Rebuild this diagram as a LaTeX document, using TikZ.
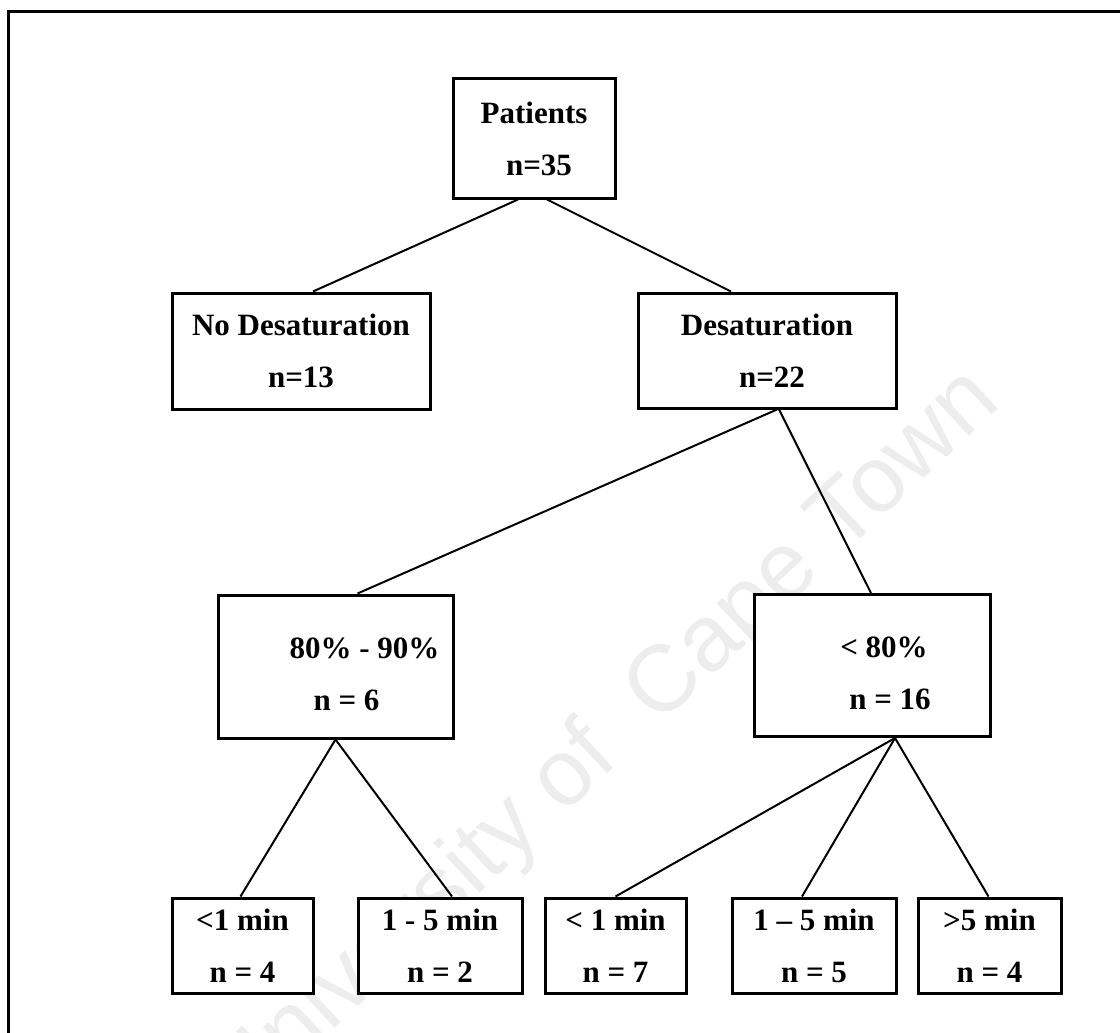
\documentclass[tikz,border=0pt]{standalone}
\usepackage{fontspec}
\setmainfont{Liberation Serif}
\newfontfamily\markfont{Liberation Sans}
\usetikzlibrary{positioning}

\begin{document}
\begin{tikzpicture}[x=1pt, y=-1pt, line width = 2pt,
box/.style={draw, fill=white, line width=3pt, inner sep=0pt, align=center,
  font=\bfseries\fontsize{31}{52}\selectfont},
link/.style={line width=2pt}]

\useasboundingbox (0,0) rectangle (1120,1033);

% watermark
\node [rotate=43, text=gray!14, font=\markfont\fontsize{94}{94}\selectfont] (mark) at (606,742) {University of\ \ Cape Town};

% frame
\draw [line width=3pt] (8.5,1033) -- (8.5,11.5) -- (1120,11.5);

\node [box, minimum width=162, minimum height=119] (patients) at (534,138.5) {Patients\\\hspace*{10pt}n=35};

\node [box, minimum width=258, minimum height=116] (nodesat) at (301,351) {No Desaturation\\n=13};
\node [box, minimum width=258, minimum height=115] (desat) at (767,350.5) {Desaturation\\\hspace*{10pt}n=22};
\draw [link] ([xshift=-16pt]patients.south) -- ([xshift=12pt]nodesat.north);
\draw [link] ([xshift=13pt]patients.south) -- ([xshift=-36pt]desat.north);

\node [box, minimum width=235, minimum height=143] (mild) at (335.5,666.5) {\rule{0pt}{37pt}\hspace*{58pt}80\% - 90\%\\\hspace*{22pt}n = 6};
\node [box, minimum width=236, minimum height=142] (severe) at (872,665.5) {\rule{0pt}{37pt}\hspace*{24pt}< 80\%\\\hspace*{36pt}n = 16};
\draw [link] ([xshift=10pt]desat.south) -- ([xshift=22pt]mild.north);
\draw [link] ([xshift=12pt]desat.south) -- ([xshift=-1pt]severe.north);

\node [box, minimum width=141, minimum height=95] (mildshort) at (242.5,945.5) {<1 min\\n = 4};
\node [box, minimum width=164, minimum height=95] (mildmid) at (440,945.5) {1 - 5 min\\n = 2};
\draw [link] (mild.south) -- ([xshift=-2pt]mildshort.north);
\draw [link] (mild.south) -- ([xshift=12pt]mildmid.north);

\node [box, minimum width=141, minimum height=95] (sevshort) at (615.5,945.5) {< 1 min\\n = 7};
\node [box, minimum width=164, minimum height=95] (sevmid) at (814,945.5) {1 -- 5 min\\n = 5};
\node [box, minimum width=143, minimum height=95] (sevlong) at (989.5,945.5) {>5 min\\n = 4};
\draw [link] ([xshift=23pt]severe.south) -- (sevshort.north);
\draw [link] ([xshift=23pt]severe.south) -- ([xshift=-12pt]sevmid.north);
\draw [link] ([xshift=23pt]severe.south) -- ([xshift=-1pt]sevlong.north);

\end{tikzpicture}
\end{document}
